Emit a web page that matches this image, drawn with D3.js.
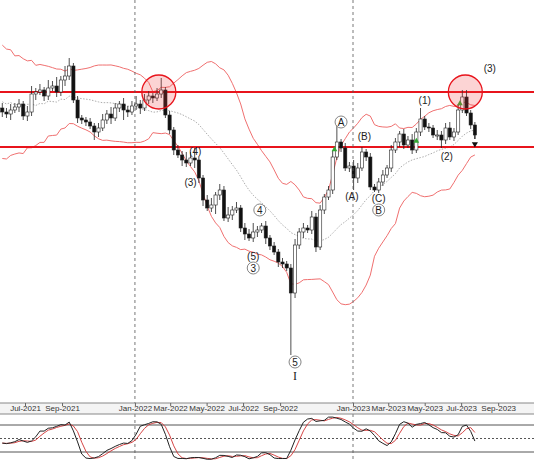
<!DOCTYPE html>
<html><head><meta charset="utf-8">
<script src="https://cdn.jsdelivr.net/npm/d3@7"></script>
<style>body{margin:0;background:#fff}svg{display:block;font-family:"Liberation Sans",Arial,sans-serif}</style>
</head><body>
<svg id="c" width="534" height="462"></svg>
<script>
// weekly candles, first week starting 2021-05-24
const startDate = "2021-05-24";
// closes before the visible range (used only for the Bollinger / stochastic warm-up)
const history = [330,262,340,282,322,252,300,336,270,312,258,322,318,262,332,266,318,302,292];
const closes = [288,286,290,293,296,284,288,306,308,310,304,312,314,308,320,324,334,300,282,280,
278,274,268,272,280,286,282,292,296,290,288,294,296,292,300,304,302,306,310,285,
270,250,245,240,237,242,240,222,200,192,195,205,210,182,185,190,192,172,166,162,
168,170,174,162,154,148,138,136,132,107,155,168,172,170,183,153,190,203,210,243,
258,252,232,234,222,232,248,243,213,210,218,225,232,250,258,266,255,260,250,268,
281,273,272,265,265,260,272,263,268,290,303,287,275,265];
const wickUp = [5,4,6,4,5,3,6,8,4,6,3,8,5,9,4,10,8,3,4,3,
3,4,3,5,6,4,7,5,3,6,4,5,8,4,6,5,3,6,12,3,
4,3,5,4,8,6,10,3,3,5,7,3,6,4,8,4,6,3,5,5,
9,4,3,5,3,4,3,4,3,4,6,4,5,3,6,4,5,3,4,6,
20,3,5,4,6,5,5,3,4,3,4,5,3,5,4,3,5,4,6,4,
11,3,4,3,5,4,5,6,4,6,7,7,3,3];
const wickDn = [5,4,6,3,5,4,5,4,6,3,5,4,3,5,4,6,4,3,5,4,
4,3,8,5,3,4,6,3,4,10,5,3,4,6,3,4,5,3,4,3,
4,5,3,6,4,3,8,5,6,3,4,9,5,3,4,5,3,4,6,3,
4,5,3,6,4,3,5,4,3,62,5,4,6,3,4,5,3,4,3,4,
3,4,3,4,12,5,3,4,3,2,3,4,3,4,3,5,4,3,4,3,
4,3,4,3,5,8,4,3,4,3,3,3,4,4];
const levels = [308, 253];
const circles = [{i:37.5, p:308}, {i:110.8, p:308}];
const monthTicks = ["2021-07-01","2021-09-01","2022-01-01","2022-03-01","2022-05-01","2022-07-01","2022-09-01","2023-01-01","2023-03-01","2023-05-01","2023-07-01","2023-09-01"];
const yearLines = ["2022-01-01","2023-01-01"];
const waveLabels = [
 {t:"(3)",i:116.7,p:332,c:false},{t:"(1)",i:101,p:300,c:false},{t:"(2)",i:106.3,p:244,c:false},
 {t:"A",i:81.1,p:278,c:true},{t:"(B)",i:86.6,p:264,c:false},{t:"(A)",i:83.7,p:204,c:false},
 {t:"(C)",i:90,p:202,c:false},{t:"B",i:90,p:190,c:true},{t:"(4)",i:46.2,p:249,c:false},
 {t:"(3)",i:45,p:218,c:false},{t:"4",i:61.7,p:190,c:true},{t:"(5)",i:60,p:144,c:false},
 {t:"3",i:60,p:132,c:true},{t:"5",i:70.1,p:38,c:true},{t:"I",i:70.1,p:24,c:false}];
const greenMarks = [79.5, 99, 109.5];

const svg = d3.select("#c");
const W = 534, H = 462;
const parse = d3.timeParse("%Y-%m-%d");
const d0 = parse(startDate);
const all = history.concat(closes);
const nH = history.length;
const candles = closes.map((c,i)=>{
  const o = i===0 ? history[nH-1] : closes[i-1];
  return {date:d3.timeDay.offset(d0,7*i), o, c, h:Math.max(o,c)+wickUp[i], l:Math.min(o,c)-wickDn[i], i};
});
const x = d3.scaleTime().domain([parse("2021-07-01"),parse("2023-01-01")]).range([25,353]);
const y = d3.scaleLinear().domain([0,400]).range([400,0]);
const xi = i => x(d3.timeDay.offset(d0,7*i));

// Bollinger 20, 2
const allH = history.map(v=>v+5).concat(candles.map(d=>d.h));
const allL = history.map(v=>v-5).concat(candles.map(d=>d.l));
const bb = candles.map((d,i)=>{
  const w = all.slice(i+nH-19,i+nH+1);
  const m = d3.mean(w), s = Math.sqrt(d3.mean(w,v=>(v-m)*(v-m)));
  return {i, m, u:m+2*s, lo:m-2*s};
});
const main = svg.append("g");
main.append("clipPath").attr("id","cp").append("rect").attr("x",0).attr("y",0).attr("width",W).attr("height",403);
const g = main.append("g").attr("clip-path","url(#cp)");
yearLines.forEach(s=>svg.append("line").attr("x1",x(parse(s))).attr("x2",x(parse(s))).attr("y1",0).attr("y2",H).attr("stroke","#555").attr("stroke-dasharray","3,3").attr("stroke-width",0.8));
const ln = k => d3.line().x(d=>xi(d.i)).y(d=>y(d[k])).curve(d3.curveLinear);
g.append("path").datum(bb).attr("d",ln("u")).attr("fill","none").attr("stroke","#f07070").attr("stroke-width",1);
g.append("path").datum(bb).attr("d",ln("lo")).attr("fill","none").attr("stroke","#f07070").attr("stroke-width",1);
g.append("path").datum(bb).attr("d",ln("m")).attr("fill","none").attr("stroke","#999").attr("stroke-dasharray","1.5,1.5").attr("stroke-width",0.8);
levels.forEach(p=>g.append("line").attr("x1",0).attr("x2",W).attr("y1",y(p)).attr("y2",y(p)).attr("stroke","#e8141c").attr("stroke-width",2));
// candles
const cg = g.append("g");
cg.selectAll("line").data(candles).join("line").attr("x1",d=>xi(d.i)).attr("x2",d=>xi(d.i)).attr("y1",d=>y(d.h)).attr("y2",d=>y(d.l)).attr("stroke","#222").attr("stroke-width",0.8);
cg.selectAll("rect").data(candles).join("rect").attr("x",d=>xi(d.i)-1.6).attr("width",3.2)
  .attr("y",d=>y(Math.max(d.o,d.c))).attr("height",d=>Math.max(1,Math.abs(y(d.o)-y(d.c))))
  .attr("fill",d=>d.c>=d.o?"#fff":"#111").attr("stroke","#222").attr("stroke-width",0.6);
greenMarks.forEach(i=>{const c=candles[Math.round(i)];g.append("path").attr("d",d3.symbol(d3.symbolTriangle,14)()).attr("transform",`translate(${xi(i)},${y((c.o+c.c)/2)})`).attr("fill","#3a3");});
circles.forEach(c=>g.append("circle").attr("cx",xi(c.i)).attr("cy",y(c.p)).attr("r",17).attr("fill","rgba(240,60,60,0.22)").attr("stroke","#e8141c").attr("stroke-width",1.3));
// arrow
const last = candles[candles.length-1];
g.append("line").attr("x1",xi(last.i)).attr("x2",xi(last.i)).attr("y1",y(last.l)).attr("y2",y(last.l)-4).attr("stroke","#222");
g.append("path").attr("d",d3.symbol(d3.symbolTriangle,16)()).attr("transform",`translate(${xi(last.i)},${y(last.l)+5}) rotate(180)`).attr("fill","#111");
// labels
waveLabels.forEach(w=>{
  const cx = xi(w.i), cy = y(w.p);
  if(w.c) g.append("circle").attr("cx",cx).attr("cy",cy).attr("r",6).attr("fill","#fff").attr("stroke","#777").attr("stroke-width",0.9);
  g.append("text").attr("x",cx).attr("y",cy+3.5).attr("text-anchor","middle").attr("font-size",w.t==="I"?12:10)
   .attr("font-family",w.t==="I"?"Liberation Serif,serif":null).attr("fill","#222").text(w.t);
});
// axis strip
svg.append("rect").attr("x",0).attr("y",403).attr("width",W).attr("height",11).attr("fill","#f4f4f4");
svg.append("line").attr("x1",0).attr("x2",W).attr("y1",403).attr("y2",403).attr("stroke","#888");
svg.append("line").attr("x1",0).attr("x2",W).attr("y1",414).attr("y2",414).attr("stroke","#888");
const ax = svg.append("g").attr("transform","translate(0,403)")
  .call(d3.axisBottom(x).tickValues(monthTicks.map(parse)).tickSize(3).tickFormat(d3.timeFormat("%b-%Y")));
ax.select(".domain").remove();
ax.selectAll("line").attr("stroke","#666");
ax.selectAll("text").attr("font-size",8).attr("fill","#333").attr("dy","0.2em").attr("font-family","Liberation Sans,Arial,sans-serif");
// stochastic 14,3,3
const kRaw = candles.map((d,i)=>{
  const j = i+nH;
  const hh = d3.max(allH.slice(j-13,j+1)), ll = d3.min(allL.slice(j-13,j+1));
  return {i, hh, ll, c:d.c};
});
const kS = kRaw.map((d,i)=>{const w=kRaw.slice(Math.max(0,i-2),i+1);const num=d3.sum(w,v=>v.c-v.ll),den=d3.sum(w,v=>v.hh-v.ll);return {i,k:den?100*num/den:50};});
const dS = kS.map((d,i)=>({i,d:d3.mean(kS.slice(Math.max(0,i-2),i+1),v=>v.k)}));
const ys = d3.scaleLinear().domain([0,100]).range([461,416]);
[80,20].forEach(v=>svg.append("line").attr("x1",0).attr("x2",W).attr("y1",ys(v)).attr("y2",ys(v)).attr("stroke","#555"));
svg.append("line").attr("x1",0).attr("x2",W).attr("y1",ys(50)).attr("y2",ys(50)).attr("stroke","#555").attr("stroke-dasharray","2,2");
svg.append("path").datum(dS).attr("d",d3.line().x(d=>xi(d.i)).y(d=>ys(d.d))).attr("fill","none").attr("stroke","#d03030").attr("stroke-width",0.9);
svg.append("path").datum(kS).attr("d",d3.line().x(d=>xi(d.i)).y(d=>ys(d.k))).attr("fill","none").attr("stroke","#222").attr("stroke-width",1);
</script>
</body></html>
